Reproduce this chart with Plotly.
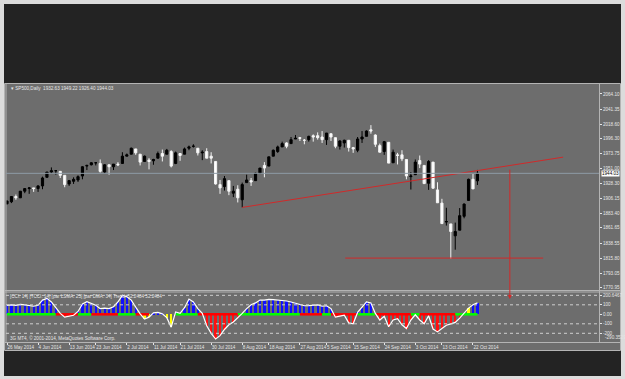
import plotly.graph_objects as go

W, H = 625, 379

# ---------------- data ----------------
bar_index = list(range(107))
open_ = [1898, 1901, 1909, 1907, 1917, 1921, 1922, 1921, 1925, 1938,
         1946, 1948, 1947, 1941, 1928, 1932, 1934, 1940, 1955, 1957,
         1960, 1959, 1946, 1957, 1954, 1958, 1959, 1970, 1973, 1981,
         1973, 1962, 1964, 1963, 1967, 1974, 1973, 1977, 1959, 1974,
         1973, 1982, 1985, 1982, 1975, 1977, 1970, 1962, 1927, 1924,
         1933, 1914, 1920, 1904, 1930, 1933, 1933, 1944, 1956, 1955,
         1970, 1977, 1984, 1990, 1989, 1996, 1998, 1994, 1995, 2001,
         2001, 1999, 1995, 2004, 1998, 1985, 1990, 1994, 1983, 1979,
         1996, 2000, 2010, 2002, 1986, 1977, 1991, 1960, 1972, 1972,
         1965, 1939, 1942, 1963.5, 1956, 1929, 1961, 1919, 1899, 1870.5,
         1867.5, 1849.5, 1858, 1879, 1903, 1935, 1932.63]
high = [1903, 1909, 1912, 1917, 1921, 1923, 1922, 1926, 1939, 1946,
        1953, 1948, 1947, 1941, 1934, 1938, 1941, 1955, 1957, 1961,
        1961, 1965, 1958, 1957, 1958, 1961, 1976, 1974, 1983, 1981,
        1973, 1971, 1967, 1966, 1977, 1980, 1981, 1979, 1977, 1974,
        1983, 1986, 1988, 1982, 1979, 1982, 1976, 1962, 1934, 1940,
        1933, 1925, 1926, 1930, 1942, 1937, 1945, 1952, 1961, 1969,
        1980, 1986, 1992, 1991, 1999, 2002, 1999, 1996, 2001, 2003,
        2006, 2008, 2005, 2004, 1998, 1994, 1995, 1994, 1984, 1999,
        2008, 2009, 2017, 2003, 1989, 1993, 1991, 1980, 1975, 1979,
        1965, 1946, 1965, 1971, 1956, 1964, 1961, 1930.5, 1905.5, 1892,
        1867.5, 1869.5, 1891.5, 1898.5, 1936, 1943, 1949.22]
low = [1897, 1899, 1904, 1907, 1914, 1913, 1916, 1916, 1920, 1938,
       1944, 1942, 1937, 1923, 1925, 1928, 1931, 1935, 1949, 1956,
       1956, 1945, 1944, 1942, 1949, 1955, 1959, 1970, 1973, 1972,
       1956, 1962, 1950, 1957, 1967, 1962, 1973, 1953, 1958, 1963,
       1973, 1979, 1983, 1971, 1964, 1967, 1959, 1927, 1913, 1918,
       1911, 1908, 1900, 1892.5, 1930, 1925, 1933, 1944, 1938, 1955,
       1970, 1975, 1984, 1982, 1989, 1996, 1993, 1988, 1992, 1992,
       1995, 1990, 1987, 1993, 1982, 1980, 1983, 1977, 1975, 1976,
       1990, 2000, 2004, 1984, 1976, 1972, 1959.5, 1960, 1957.5, 1962.5,
       1935, 1919.5, 1942, 1952, 1928.5, 1919, 1921, 1899.5, 1867.5, 1865,
       1815, 1828.5, 1858, 1876, 1903, 1920.5, 1926.40]
close = [1902, 1909, 1907, 1917, 1921, 1922, 1921, 1925, 1937, 1946,
         1948, 1948, 1941, 1927, 1933, 1935, 1939, 1954, 1956, 1960,
         1960, 1947, 1957, 1954, 1958, 1957, 1970, 1972, 1982, 1975,
         1961, 1970, 1962, 1965, 1974, 1970, 1979, 1955, 1975, 1971,
         1981, 1984, 1985, 1975, 1976, 1967, 1967, 1928, 1922, 1936,
         1917, 1917, 1907, 1927, 1934, 1931, 1944, 1952, 1952, 1969,
         1979, 1984, 1989, 1985, 1995, 1997, 1997, 1994, 2000, 1999,
         1998, 1995, 2005, 1999, 1985, 1993, 1994, 1983, 1981, 1996,
         1999, 2008, 2008, 1988, 1976, 1992, 1959.5, 1976, 1971, 1966,
         1940, 1940, 1961, 1958, 1928.5, 1962, 1921.5, 1899.5, 1868, 1871,
         1856, 1856, 1880, 1897.5, 1935, 1920.5, 1944.03]

cci = [95, 100, 95, 105, 100, 90, 85, 95, 150, 168,
       130, 70, 10, -30, -20, -10, 30, 110, 133, 110,
       95, 60, 65, 60, 80, 130, 200, 185, 150, 75,
       5, -50, -30, 15, 20, 5, -35, -135, 25, 10,
       70, 160, 130, 60, 10, -120, -200, -260, -225, -160,
       -110, -80, -40, 10, 60, 100, 120, 150, 150, 158,
       155, 150, 148, 140, 130, 115, 100, 90, 92, 95,
       100, 85, 90, 60, -30, -20, -10, -90, -100, 20,
       70, 130, 120, 10, -60, -20, -130, -60, -45, -110,
       -150, -60, -5, -60, -100, -15, -155, -185, -150, -115,
       -100, -85, -40, 15, 65, 100, 120]
hist_kind = ['b' if v > 0 else 'r' for v in cci]
for k in (31, 32, 36, 37, 39, 103, 104):
    hist_kind[k] = 'y'

zero_segments = [(0, 11, 'g'), (11, 16, 'r'), (16, 19, 'g'), (19, 25, 'r'),
                 (25, 29, 'g'), (29, 32, 'r'), (38, 43, 'g'), (43, 52, 'r'),
                 (52, 66, 'g'), (66, 71, 'r'), (71, 73, 'g'), (73, 79, 'r'),
                 (79, 83, 'g'), (83, 91, 'r'), (91, 93, 'g'), (93, 101, 'r'),
                 (101, 106, 'g')]

date_tick_idx = [0, 7, 14, 20, 27, 33, 39, 46, 53, 59, 66, 72, 78, 85, 92, 98, 105]
date_tick_txt = ['26 May 2014', '4 Jun 2014', '13 Jun 2014', '23 Jun 2014', '2 Jul 2014',
                 '11 Jul 2014', '21 Jul 2014', '30 Jul 2014', '8 Aug 2014', '18 Aug 2014',
                 '27 Aug 2014', '5 Sep 2014', '15 Sep 2014', '24 Sep 2014', '3 Oct 2014',
                 '13 Oct 2014', '22 Oct 2014']
price_ticks = [2064.10, 2041.35, 2018.60, 1996.30, 1973.75, 1951.00, 1928.30,
               1906.15, 1883.40, 1861.65, 1838.55, 1815.80, 1793.05, 1770.95]
cci_ticks = [200.6467, 100, 0, -100, -200]
cci_tick_txt = ['200.6467', '100', '0.00', '-100', '-200']
cci_min_label = -290.3529
cci_levels = [200, 100, -100, -200]

last_price = 1944.03
trend_x = [53, 125.3]
trend_y = [1892.5, 1968.5]
support_x = [76.2, 120.8]
support_y = [1815.8, 1815.8]
target_x = 113.3
target_from = 1955.0
target_to_cci = 160

header = 'SP500,Daily  1932.63 1949.22 1926.40 1944.03'
ind_header = '[CCI: 14] [TCCI: 14] [par LSMA: 25] [par DMA: 34] Trend: 52.2484 52.2484'
copyright_txt = '3G MT4, \u00a9 2001-2014, MetaQuotes Software Corp.'

# ---------------- styling ----------------
GRAY = '#6d6d6d'
DARK = '#232323'
LIGHT = '#b4b4b4'
TXT = '#e6e6e6'
FONT = 'Liberation Sans, Arial, sans-serif'
FS = 4.6

def px(xp):
    return xp / W

def py(yp):
    return 1 - yp / H

x0_px = 7.0
step_px = 4.438
plot_l, plot_r = 6, 599
xr = [(plot_l - x0_px) / step_px, (plot_r - x0_px) / step_px]

main_top, main_bot = 85, 290
ind_top, ind_bot = 292, 342

fig = go.Figure()

fig.add_trace(go.Candlestick(
    x=bar_index, open=open_, high=high, low=low, close=close,
    xaxis='x', yaxis='y', whiskerwidth=0,
    increasing=dict(line=dict(color='#000000', width=1), fillcolor='#000000'),
    decreasing=dict(line=dict(color='#f4f4f4', width=1), fillcolor='#ffffff'),
    showlegend=False, hoverinfo='skip'))

fig.add_trace(go.Scatter(x=trend_x, y=trend_y, mode='lines', xaxis='x', yaxis='y',
                         line=dict(color='#d02a2a', width=1), showlegend=False, hoverinfo='skip'))
fig.add_trace(go.Scatter(x=support_x, y=support_y, mode='lines', xaxis='x', yaxis='y',
                         line=dict(color='#d02a2a', width=1), showlegend=False, hoverinfo='skip'))

col_map = {'b': '#1010ff', 'r': '#ff1010', 'y': '#ffff00'}
fig.add_trace(go.Bar(x=bar_index, y=cci, xaxis='x2', yaxis='y2', width=0.5,
                     marker=dict(color=[col_map[k] for k in hist_kind], line=dict(width=0)),
                     showlegend=False, hoverinfo='skip'))
zc = {'g': '#00ff00', 'r': '#ff0000'}
for a, b, c in zero_segments:
    fig.add_trace(go.Scatter(x=[a, b], y=[0, 0], mode='lines', xaxis='x2', yaxis='y2',
                             line=dict(color=zc[c], width=2.5), showlegend=False, hoverinfo='skip'))
fig.add_trace(go.Scatter(x=bar_index, y=cci, mode='lines', xaxis='x2', yaxis='y2',
                         line=dict(color='#ffffff', width=1.2), showlegend=False, hoverinfo='skip'))

shapes = []
# background frame
shapes.append(dict(type='rect', xref='paper', yref='paper', x0=px(4), x1=px(621), y0=py(376), y1=py(4),
                   fillcolor=DARK, line=dict(width=0), layer='below'))
shapes.append(dict(type='rect', xref='paper', yref='paper', x0=px(4.5), x1=px(620.5), y0=py(350.5), y1=py(83.5),
                   fillcolor=GRAY, line=dict(color=LIGHT, width=1), layer='below'))
# separators
shapes.append(dict(type='line', xref='paper', yref='paper', x0=px(4.5), x1=px(620.5), y0=py(290.5), y1=py(290.5),
                   line=dict(color=LIGHT, width=1)))
shapes.append(dict(type='line', xref='paper', yref='paper', x0=px(4.5), x1=px(620.5), y0=py(292), y1=py(292),
                   line=dict(color=LIGHT, width=1)))
shapes.append(dict(type='line', xref='paper', yref='paper', x0=px(4.5), x1=px(620.5), y0=py(342.5), y1=py(342.5),
                   line=dict(color=LIGHT, width=1)))
shapes.append(dict(type='line', xref='paper', yref='paper', x0=px(599.5), x1=px(599.5), y0=py(342.5), y1=py(84),
                   line=dict(color=LIGHT, width=1)))
shapes.append(dict(type='line', xref='paper', yref='paper', x0=px(6), x1=px(6), y0=py(342.5), y1=py(84),
                   line=dict(color=LIGHT, width=1)))
# bid line
shapes.append(dict(type='line', xref='x', yref='y', x0=xr[0], x1=xr[1], y0=last_price, y1=last_price,
                   line=dict(color='#8f9ca6', width=1)))
# indicator levels
for lv in cci_levels:
    shapes.append(dict(type='line', xref='x2', yref='y2', x0=xr[0], x1=xr[1], y0=lv, y1=lv,
                       line=dict(color='#cfcfcf', width=1, dash='dot')))

annotations = [
    dict(xref='paper', yref='paper', x=px(9), y=py(88.5), text='\u25be ' + header, showarrow=False,
         xanchor='left', yanchor='middle', font=dict(family=FONT, size=FS, color=TXT)),
    dict(xref='paper', yref='paper', x=px(8), y=py(296), text=ind_header, showarrow=False,
         xanchor='left', yanchor='middle', font=dict(family=FONT, size=FS, color=TXT)),
    dict(xref='paper', yref='paper', x=px(8), y=py(338), text=copyright_txt, showarrow=False,
         xanchor='left', yanchor='middle', font=dict(family=FONT, size=FS, color=TXT)),
    dict(xref='paper', yref='y', x=px(600.5), y=last_price, text=f'{last_price:.2f}', showarrow=False,
         xanchor='left', yanchor='middle', bgcolor='#ffffff', borderpad=0,
         font=dict(family=FONT, size=FS, color='#000000')),
    dict(xref='paper', yref='y2', x=px(603), y=cci_min_label, text=f'{cci_min_label:.4f}', showarrow=False,
         xanchor='left', yanchor='bottom', font=dict(family=FONT, size=FS, color=TXT)),
    dict(xref='x2', yref='y2', x=target_x, y=target_to_cci, ax=0, ay=-131, axref='pixel', ayref='pixel',
         showarrow=True, arrowhead=2, arrowsize=0.8, arrowwidth=1, arrowcolor='#d02a2a', text=''),
]

fig.update_layout(
    width=W, height=H, margin=dict(l=0, r=0, t=0, b=0),
    paper_bgcolor='#dcdcdc', plot_bgcolor=GRAY,
    showlegend=False, bargap=0,
    shapes=shapes, annotations=annotations,
    xaxis=dict(domain=[px(plot_l), px(plot_r)], range=xr, anchor='y', showticklabels=False,
               showgrid=False, zeroline=False, showline=False, ticks='', rangeslider=dict(visible=False),
               fixedrange=True),
    yaxis=dict(domain=[py(main_bot), py(main_top)], range=[1767.5, 2077.7], anchor='x', side='right',
               tickvals=price_ticks, ticktext=[f'{v:.2f}' for v in price_ticks],
               ticks='outside', ticklen=2, tickcolor=TXT, tickfont=dict(family=FONT, size=FS, color=TXT),
               showgrid=False, zeroline=False, showline=False, fixedrange=True),
    xaxis2=dict(domain=[px(plot_l), px(plot_r)], range=xr, anchor='y2', tickvals=date_tick_idx,
                ticktext=date_tick_txt, ticks='outside', ticklen=2, tickcolor=TXT, tickangle=0,
                ticklabelposition='outside right',
                tickfont=dict(family=FONT, size=FS, color=TXT), showgrid=False, zeroline=False,
                showline=False, fixedrange=True),
    yaxis2=dict(domain=[py(ind_bot), py(ind_top)], range=[-291.6, 235], anchor='x2', side='right',
                tickvals=cci_ticks, ticktext=cci_tick_txt, ticks='outside', ticklen=2, tickcolor=TXT,
                tickfont=dict(family=FONT, size=FS, color=TXT), showgrid=False, zeroline=False,
                showline=False, fixedrange=True),
)

fig.write_html('out.html', config={'displayModeBar': False})
